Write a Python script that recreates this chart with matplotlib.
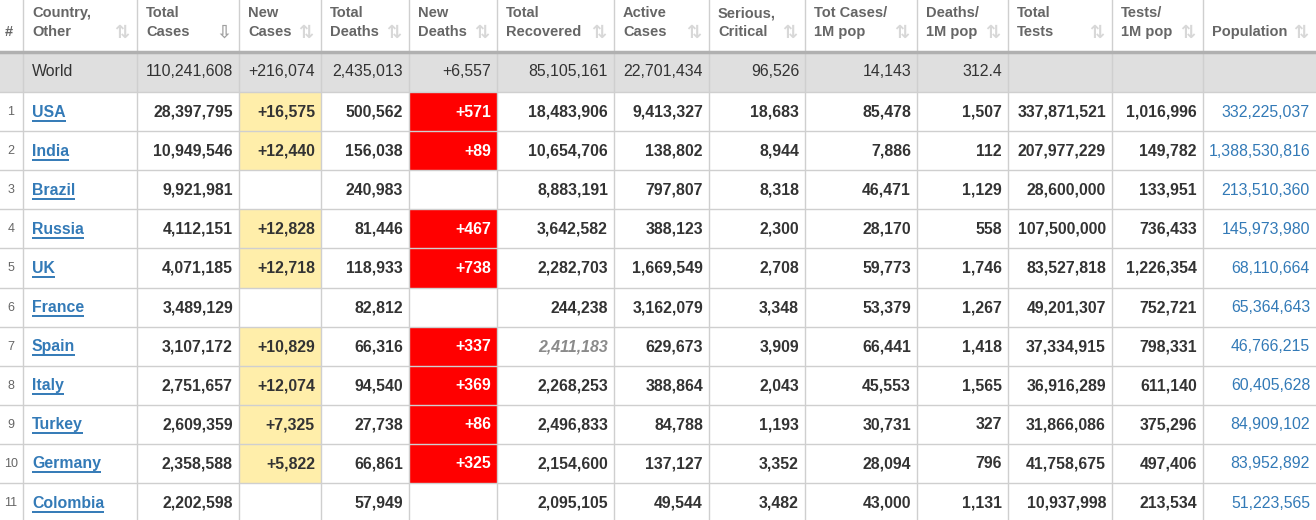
import matplotlib
matplotlib.use("Agg")
import matplotlib.pyplot as plt
from matplotlib.patches import Rectangle

# column headers (two lines each)
headers = ["#", "Country,\nOther", "Total\nCases", "New\nCases", "Total\nDeaths", "New\nDeaths",
           "Total\nRecovered", "Active\nCases", "Serious,\nCritical", "Tot Cases/\n1M pop",
           "Deaths/\n1M pop", "Total\nTests", "Tests/\n1M pop", "\nPopulation"]

world = ["", "World", "110,241,608", "+216,074", "2,435,013", "+6,557", "85,105,161",
         "22,701,434", "96,526", "14,143", "312.4", "", "", ""]

countries = ["USA", "India", "Brazil", "Russia", "UK", "France", "Spain", "Italy",
             "Turkey", "Germany", "Colombia"]
total_cases = [28397795, 10949546, 9921981, 4112151, 4071185, 3489129, 3107172, 2751657,
               2609359, 2358588, 2202598]
new_cases = [16575, 12440, None, 12828, 12718, None, 10829, 12074, 7325, 5822, None]
total_deaths = [500562, 156038, 240983, 81446, 118933, 82812, 66316, 94540, 27738, 66861, 57949]
new_deaths = [571, 89, None, 467, 738, None, 337, 369, 86, 325, None]
total_recovered = [18483906, 10654706, 8883191, 3642582, 2282703, 244238, 2411183, 2268253,
                   2496833, 2154600, 2095105]
active_cases = [9413327, 138802, 797807, 388123, 1669549, 3162079, 629673, 388864, 84788,
                137127, 49544]
serious = [18683, 8944, 8318, 2300, 2708, 3348, 3909, 2043, 1193, 3352, 3482]
cases_per_m = [85478, 7886, 46471, 28170, 59773, 53379, 66441, 45553, 30731, 28094, 43000]
deaths_per_m = [1507, 112, 1129, 558, 1746, 1267, 1418, 1565, 327, 796, 1131]
total_tests = [337871521, 207977229, 28600000, 107500000, 83527818, 49201307, 37334915,
               36916289, 31866086, 41758675, 10937998]
tests_per_m = [1016996, 149782, 133951, 736433, 1226354, 752721, 798331, 611140, 375296,
               497406, 213534]
population = [332225037, 1388530816, 213510360, 145973980, 68110664, 65364643, 46766215,
              60405628, 84909102, 83952892, 51223565]
estimated_recovered = ["Spain"]  # shown in grey italics

col_edges = [0, 23, 137, 239, 321, 409, 497, 614, 709, 805, 917, 1008, 1112, 1203, 1316]
header_bottom = 52
world_bottom = 92
row_h = 39.1

FONT = "Liberation Sans"
TEXT = "#333333"
HEAD = "#666666"
LINK = "#337ab7"
GRID = "#cfcfcf"
NUM_SIZE = 11.4
HEAD_SIZE = 10.5


def fmt(v, plus=False):
    if v is None:
        return ""
    s = f"{v:,}"
    return "+" + s if plus else s


fig = plt.figure(figsize=(13.16, 5.2), dpi=100)
ax = fig.add_axes([0, 0, 1, 1])
ax.set_xlim(0, 1316)
ax.set_ylim(520, 0)
ax.axis("off")

# world row background
ax.add_patch(Rectangle((0, header_bottom), 1316, world_bottom - header_bottom,
                       facecolor="#dfdfdf", edgecolor="none", zorder=0))

# header
for i, h in enumerate(headers):
    x0, x1 = col_edges[i], col_edges[i + 1]
    if i == 0:
        ax.text(5, 32, "#", fontsize=HEAD_SIZE, fontweight="bold", color=HEAD, family=FONT,
                va="center", ha="left")
        continue
    l1, l2 = h.split("\n")
    ax.text(x0 + 9, 13, l1, fontsize=HEAD_SIZE, fontweight="bold", color=HEAD, family=FONT,
            va="center", ha="left")
    ax.text(x0 + 9, 32, l2, fontsize=HEAD_SIZE, fontweight="bold", color=HEAD, family=FONT,
            va="center", ha="left")
    icon_col = "#a0a0a0" if i == 2 else "#d8d8d8"
    icon = "\u21e9" if i == 2 else "\u21c5"
    ax.text(x1 - 8, 33, icon, fontsize=13, fontweight="bold", color=icon_col,
            family="DejaVu Sans", va="center", ha="right")

# world row
wy = (header_bottom + world_bottom) / 2
for i, v in enumerate(world):
    if not v:
        continue
    if i == 1:
        ax.text(col_edges[1] + 9, wy, v, fontsize=NUM_SIZE, color=TEXT, family=FONT,
                va="center", ha="left")
    else:
        ax.text(col_edges[i + 1] - 6, wy, v, fontsize=NUM_SIZE, color=TEXT, family=FONT,
                va="center", ha="right")

fig.canvas.draw()
renderer = fig.canvas.get_renderer()
inv = ax.transData.inverted()

columns = [total_cases, new_cases, total_deaths, new_deaths, total_recovered, active_cases,
           serious, cases_per_m, deaths_per_m, total_tests, tests_per_m, population]

for r, name in enumerate(countries):
    top = world_bottom + r * row_h
    cy = top + row_h / 2 + 0.5
    # highlighted cells
    if new_cases[r] is not None:
        ax.add_patch(Rectangle((col_edges[3], top), col_edges[4] - col_edges[3], row_h,
                               facecolor="#ffeeaa", edgecolor="none", zorder=0))
    if new_deaths[r] is not None:
        ax.add_patch(Rectangle((col_edges[5], top), col_edges[6] - col_edges[5], row_h,
                               facecolor="#ff0000", edgecolor="none", zorder=0))
    ax.text(11, cy, str(r + 1), fontsize=9, color="#666666", family=FONT,
            va="center", ha="center")
    t = ax.text(col_edges[1] + 9, cy, name, fontsize=NUM_SIZE, fontweight="bold", color=LINK,
                family=FONT, va="center", ha="left")
    bb = t.get_window_extent(renderer)
    (ux0, _), (ux1, _) = inv.transform([(bb.x0, 0), (bb.x1, 0)])
    ax.plot([ux0, ux1], [cy + 8.5, cy + 8.5], color=LINK, lw=1.4, solid_capstyle="butt")

    for c, col in enumerate(columns):
        ci = c + 2
        plus = ci in (3, 5)
        s = fmt(col[r], plus)
        if not s:
            continue
        color, weight, style = TEXT, "bold", "normal"
        if ci == 5:
            color = "white"
        if ci == 6 and name in estimated_recovered:
            color, style = "#8a8a8a", "italic"
        if ci == 13:
            color = LINK
            weight = "normal"
        ax.text(col_edges[ci + 1] - 6, cy, s, fontsize=NUM_SIZE, fontweight=weight,
                fontstyle=style, color=color, family=FONT, va="center", ha="right")

# grid lines
for x in col_edges[1:-1]:
    ax.plot([x, x], [0, 520], color=GRID, lw=1, zorder=1)
for r in range(1, len(countries) + 1):
    y = world_bottom + r * row_h
    ax.plot([0, 1316], [y, y], color=GRID, lw=1, zorder=1)
ax.plot([0, 1316], [world_bottom, world_bottom], color=GRID, lw=1, zorder=1)
ax.plot([0, 1316], [header_bottom, header_bottom], color="#b0b0b0", lw=2.5, zorder=1)

fig.savefig("out.png", dpi=100, facecolor="white")
